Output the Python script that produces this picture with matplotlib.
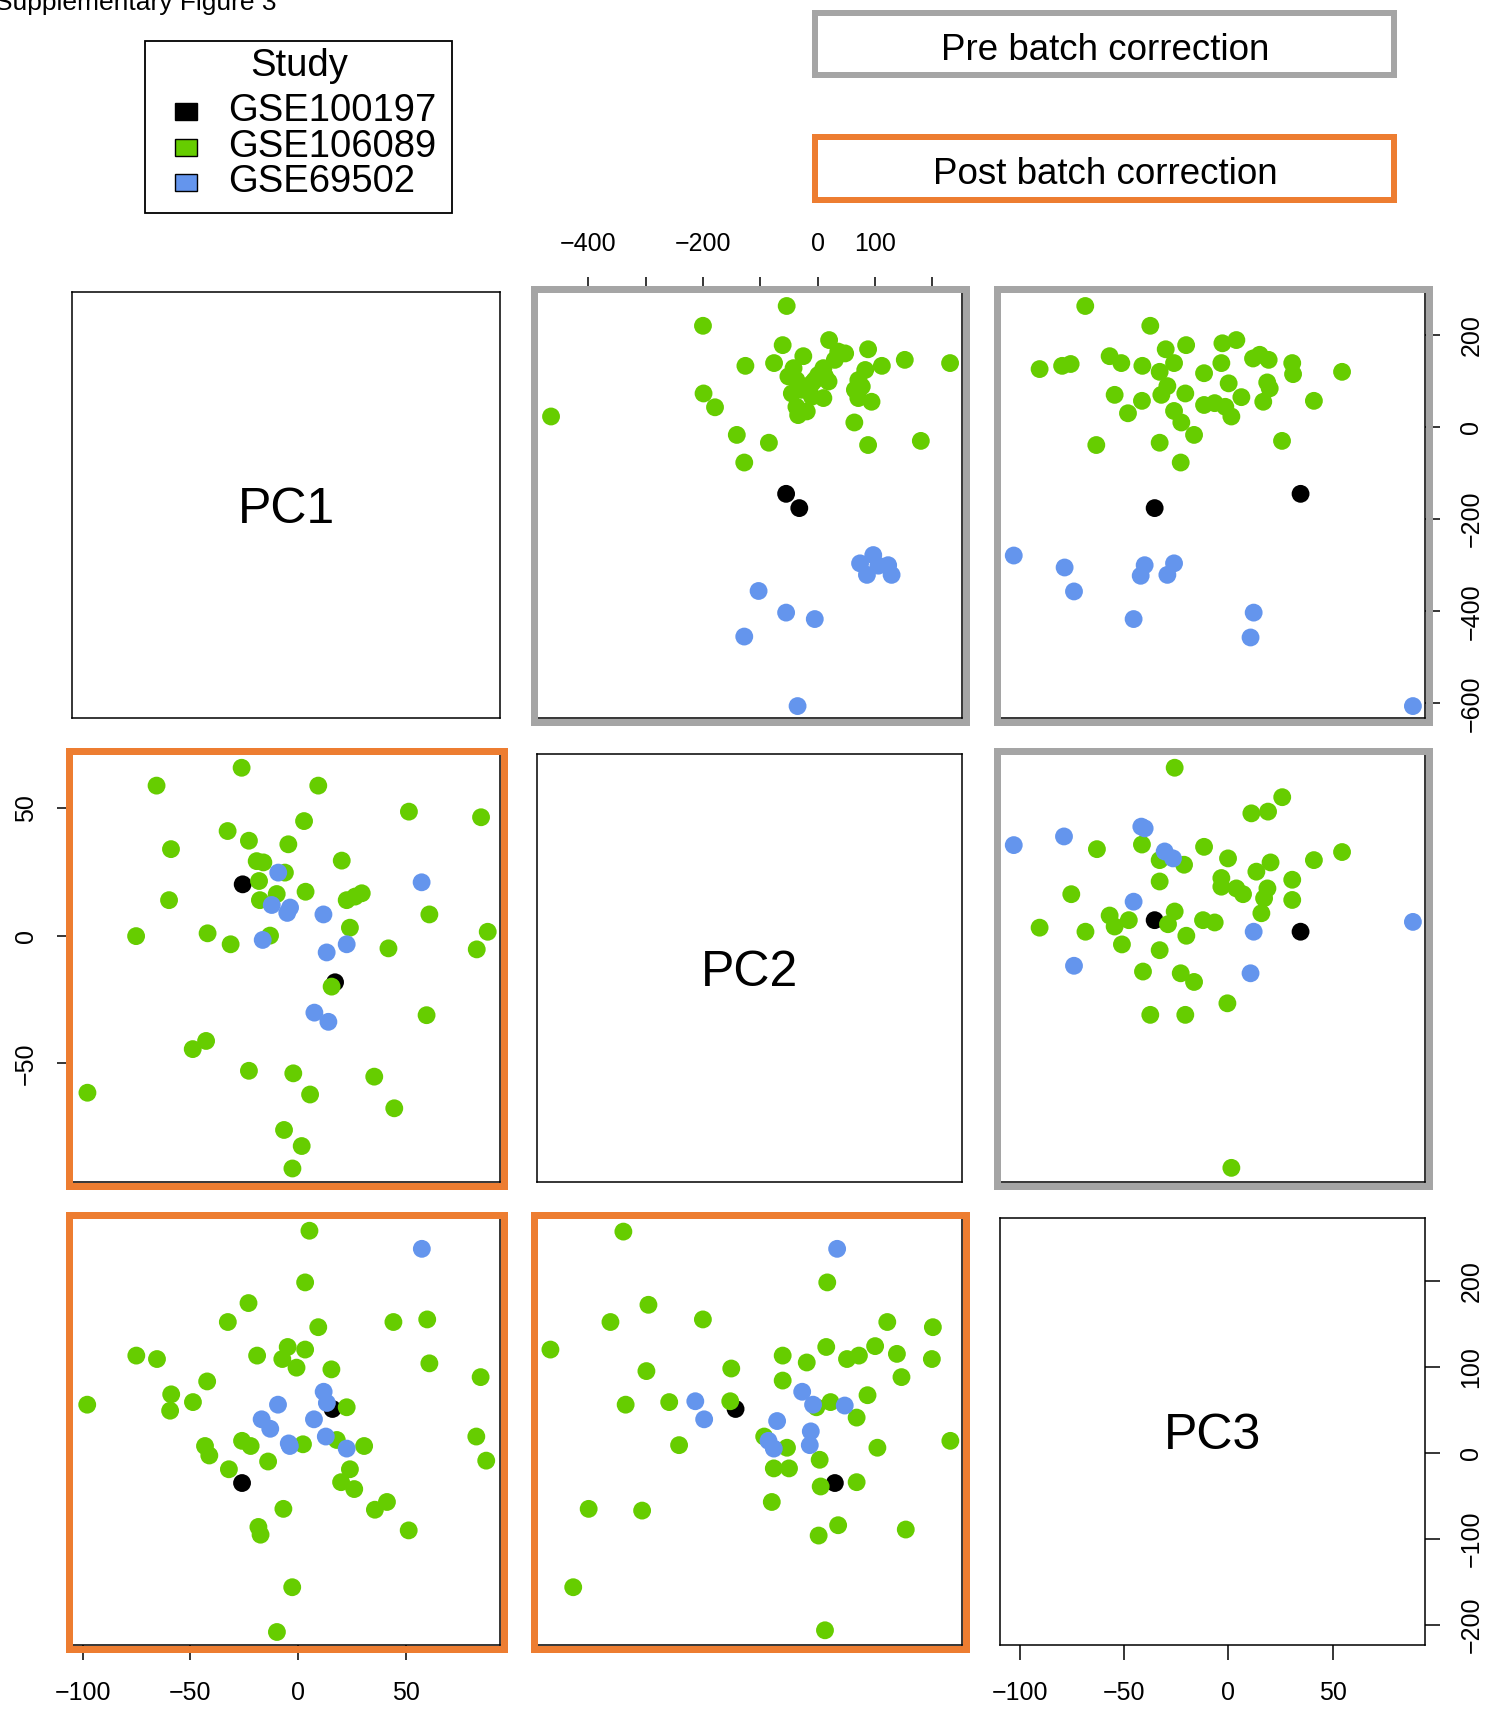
import matplotlib
matplotlib.use("Agg")
import matplotlib.pyplot as plt
from matplotlib.patches import Rectangle

plt.rcParams['font.family'] = ['Liberation Sans', 'DejaVu Sans']

W, H, DPI = 1491, 1709, 100

# ---------------- data ----------------
studies = ["GSE100197", "GSE106089", "GSE69502"]
study_colors = ["#000000", "#66CD00", "#6495ED"]
pc_names = ["PC1", "PC2", "PC3"]

# axis ranges of each component (pre = upper triangle, post = lower triangle)
pre_pc1_lim = (-631.9, 293.4)
pre_pc2_lim = (-489.5, 251.8)
pre_pc3_lim = (-109.6, 94.3)
post_pc1_lim = (-104.97, 93.8)
post_pc2_lim = (-96.5, 71.3)
post_pc3_lim = (-223.1, 272.8)

# tick values / labels
pre_pc2_ticks = [-400, -300, -200, -100, 0, 100, 200]
pre_pc2_ticklabels = ["\u2212400", "", "\u2212200", "", "0", "100", ""]
pre_pc1_ticks = [200, 0, -200, -400, -600]
pre_pc3_ticks = [-100, -50, 0, 50]
post_pc1_ticks = [-100, -50, 0, 50]
post_pc2_ticks = [50, 0, -50]
post_pc3_ticks = [200, 100, 0, -100, -200]

# ---- pre batch correction: PC2 (x) vs PC1 (y)
pre12_black_x = [-55, -32]
pre12_black_y = [-145, -176]
pre12_green_x = [-54, -200, 20, -61, 88, -25, 48, 152, 231, -126, -76, 112, 30, 10, -42, 1, 83, -37, -5, 19,
                 71, 65, -45, -10, 10, 94, 71, -37, -19, -34, -199, -179, -465, 64, -141, -85, 88, 180, -128,
                 -51, -28, 36, 77, 13, -10]
pre12_green_y = [263, 220, 189, 178, 169, 154, 160, 146, 139, 133, 139, 133, 146, 128, 128, 113, 124, 102, 102, 99,
                 102, 81, 73, 66, 63, 55, 63, 44, 34, 26, 73, 43, 23, 10, -17, -34, -39, -30, -77,
                 110, 81, 164, 88, 110, 95]
pre12_blue_x = [97, 74, 106, 123, 86, 129, -103, -55, -5, -128, -35]
pre12_blue_y = [-278, -296, -301, -300, -321, -321, -356, -403, -417, -455, -606]

# ---- pre batch correction: PC3 (x) vs PC1 (y)
pre13_black_x = [-35.4, 34.6]
pre13_black_y = [-176, -145]
pre13_green_x = [-68.7, -37.5, -20.3, -30.1, -2.9, 3.8, -90.6, -79.8, -75.7, -57, -51.4, -41.3, -33, -26.1, -11.7,
                 -3.4, 11.8, 15, 19.3, 30.6, 31, 54.5, -54.6, -41.5, -32.2, -29.3, -20.7, 0.1, 6.2, 18.6, 19.8,
                 16.7, 41, -48.2, -26.1, -22.6, -16.5, -11.7, -6.6, -1.5, 1.4, -63.4, -33, 25.7, -22.9]
pre13_green_y = [263, 220, 178, 169, 182, 189, 126, 133, 137, 154, 139, 133, 120, 139, 117,
                 139, 149, 157, 146, 139, 115, 120, 70, 57, 70, 89, 73, 95, 65, 97, 84,
                 55, 57, 30, 35, 10, -17, 48, 52, 44, 23, -39, -34, -30, -77]
pre13_blue_x = [-103, -78.6, -74.1, -40.2, -42.1, -26.1, -29.3, -45.5, 12.1, 10.6, 88.5]
pre13_blue_y = [-279, -305, -357, -300, -323, -296, -321, -417, -403, -457, -606]

# ---- pre batch correction: PC3 (x) vs PC2 (y)
pre23_black_x = [-35.4, 34.6]
pre23_black_y = [-36, -56]
pre23_green_x = [-25.8, 25.8, 11, 19, -63.1, -41.5, -11.7, -0.2, -33, -21.3, 20.2, 13.4, 41, 54.5, -33, -3.4,
                 -3.4, 3.8, 7, 18.7, 17.1, 15.8, 30.6, 30.6, -75.4, -90.6, -68.6, -57, -54.6, -47.8, -25.8,
                 -29, -20.2, -12.2, -6.6, -51.1, -33, -41, -22.9, -16.5, -0.5, -37.5, -20.7, 1.4]
pre23_green_y = [228, 177, 149, 152, 87, 95, 91, 71, 68, 60, 64, 48, 68, 82, 31, 37,
                 22, 19, 9, 19, 2, -24, 34, -1, 9, -49, -56, -28, -47, -36, -21,
                 -43, -63, -36, -40, -78, -88, -125, -128, -143, -180, -200, -200, -465]
pre23_blue_x = [-103, -78.9, -74.1, -45.5, -41.8, -40.2, -30.6, -26.6, 12.1, 10.6, 88.5]
pre23_blue_y = [94, 109, -115, -4, 126, 123, 83, 71, -56, -128, -39]

# ---- post batch correction: PC1 (x) vs PC2 (y)
post21_black_x = [-25.7, 17.2]
post21_black_y = [20.2, -18.2]
post21_green_x = [-26.2, -65.7, 9.4, 51.5, 85, 2.8, -32.7, -22.8, -4.5, -59, -19.2, -16.1, 20.3, -6.1, -18.1,
                  -9.9, 3.5, -17.7, -59.9, 22.6, 29.6, 26.5, 61, 24.1, -75.2, -42, -31.3, -13, 42, 83, 88.1,
                  15.6, 59.7, -42.7, -48.9, -22.8, -2.2, 35.4, -97.8, 5.6, 44.7, -6.5, 1.7, -2.6]
post21_green_y = [65.9, 58.9, 58.9, 48.7, 46.5, 45, 41.1, 37.3, 35.9, 34, 29.3, 28.8, 29.5, 24.8, 21.5,
                  16.4, 17.3, 14, 14, 14, 16.7, 15.4, 8.4, 3.2, -0.1, 1, -3.3, 0.1, -4.9, -5.3, 1.6,
                  -19.9, -31.1, -41.2, -44.4, -52.9, -53.9, -55.2, -61.5, -62.2, -67.6, -76.1, -82.4, -91.2]
post21_blue_x = [-9.2, -12.2, -3.7, -5.0, 11.8, -16.4, 13.3, 22.6, 7.6, 14.1, 57.4]
post21_blue_y = [24.8, 12.1, 11.1, 9.0, 8.4, -1.6, -6.5, -3.3, -30.1, -33.7, 21]

# ---- post batch correction: PC1 (x) vs PC3 (y)
post31_black_x = [16, -26]
post31_black_y = [51, -35]
post31_green_x = [5.3, 3.3, -23, -32.6, 9.4, 44.3, 60, -75.1, -65.5, -19, -4.8, -7.3, 3.3, -0.7, 15.5, 61,
                  -58.9, -42.2, -59.4, -48.8, -97.9, 22.6, 84.8, -43.2, -41.2, -26, -22, -13.9, 2.3, 18, 30.7,
                  82.8, 87.4, -32.1, 24.1, 20, 26.1, -6.8, 35.7, 41.3, -18.4, -17.4, 51.4, -2.7, -9.8]
post31_green_y = [258, 198, 174, 152, 146, 152, 155, 113, 109, 113, 123, 109, 120, 99, 97, 104,
                  68, 83, 49, 59, 56, 53, 88, 8, -3, 14, 8, -10, 10, 15, 8,
                  19, -9, -19, -19, -34, -42, -65, -66, -57, -86, -95, -90, -156, -208]
post31_blue_x = [57.5, -9.3, -16.9, -12.9, -4.3, -3.8, 7.4, 11.9, 13.4, 12.9, 22.6]
post31_blue_y = [237, 56, 39, 28, 11, 8, 39, 71, 58, 19, 5]

# ---- post batch correction: PC2 (x) vs PC3 (y)
post32_black_x = [-18.1, 21.1]
post32_black_y = [51, -35]
post32_green_x = [-62.4, 18.1, -52.5, -31, -67.5, 59.8, 41.8, -91.2, 17.7, 0.5, 10, 25.9, 30.6, 37, 45.6, 59.4,
                  -53.3, -19.8, 0.5, 47.4, -61.5, -44.3, -20.2, 13.8, 19.4, 34, 29.7, 66.7, -40.4, 2.2, -6.8,
                  -3, 3, 15.1, 37.9, -76.1, -55, -3.8, 15.5, 29.7, 22.4, 14.7, 49.1, -82.2, 17.2]
post32_green_y = [257, 198, 172, 155, 152, 146, 152, 120, 123, 113, 105, 109, 113, 124, 115, 109,
                  95, 98, 84, 88, 56, 59, 60, 53, 59, 67, 41, 14, 9, 6, 19,
                  -18, -18, -8, 6, -65, -67, -57, -39, -34, -84, -96, -89, -156, -206]
post32_blue_x = [22, -34, -30.5, 8.2, 12.5, 11.6, 11.2, 25, -1.7, -5.1, -3]
post32_blue_y = [237, 60, 39, 71, 56, 25, 9, 55, 37, 14, 5]

# ---------------- layout (pixels) ----------------
col_x = [(72, 500), (537, 962), (1000, 1425)]
row_y = [(292, 718), (754, 1182), (1218, 1645)]
GRAY = "#A5A5A5"
ORANGE = "#ED7D31"

fig = plt.figure(figsize=(W / DPI, H / DPI), dpi=DPI)


def make_ax(r, c):
    x0, x1 = col_x[c]
    y0, y1 = row_y[r]
    ax = fig.add_axes([x0 / W, 1 - y1 / H, (x1 - x0) / W, (y1 - y0) / H])
    for s in ax.spines.values():
        s.set_linewidth(1.1)
        s.set_color("black")
    ax.set_xticks([])
    ax.set_yticks([])
    return ax


axes = {}
for r in range(3):
    for c in range(3):
        axes[(r, c)] = make_ax(r, c)

panels = {
    (0, 1): (pre_pc2_lim, pre_pc1_lim,
             [(pre12_black_x, pre12_black_y), (pre12_green_x, pre12_green_y), (pre12_blue_x, pre12_blue_y)]),
    (0, 2): (pre_pc3_lim, pre_pc1_lim,
             [(pre13_black_x, pre13_black_y), (pre13_green_x, pre13_green_y), (pre13_blue_x, pre13_blue_y)]),
    (1, 2): (pre_pc3_lim, pre_pc2_lim,
             [(pre23_black_x, pre23_black_y), (pre23_green_x, pre23_green_y), (pre23_blue_x, pre23_blue_y)]),
    (1, 0): (post_pc1_lim, post_pc2_lim,
             [(post21_black_x, post21_black_y), (post21_green_x, post21_green_y), (post21_blue_x, post21_blue_y)]),
    (2, 0): (post_pc1_lim, post_pc3_lim,
             [(post31_black_x, post31_black_y), (post31_green_x, post31_green_y), (post31_blue_x, post31_blue_y)]),
    (2, 1): (post_pc2_lim, post_pc3_lim,
             [(post32_black_x, post32_black_y), (post32_green_x, post32_green_y), (post32_blue_x, post32_blue_y)]),
}

for key, (xl, yl, groups) in panels.items():
    ax = axes[key]
    ax.set_xlim(xl)
    ax.set_ylim(yl)
    for (gx, gy), col in zip(groups, study_colors):
        ax.scatter(gx, gy, s=165, c=col, edgecolors="none", zorder=3)

# diagonal labels
for i, name in enumerate(pc_names):
    axes[(i, i)].text(0.5, 0.489, name, transform=axes[(i, i)].transAxes,
                      ha="center", va="center", fontsize=36)

TL = 10.8
LS = 18


def minus(v):
    return str(v).replace("-", "\u2212")


# top axis of column 2 (pre PC2)
ax = axes[(0, 1)]
ax.xaxis.tick_top()
ax.set_xticks(pre_pc2_ticks)
ax.set_xticklabels(pre_pc2_ticklabels)
ax.tick_params(axis="x", direction="out", length=TL, width=1.1, labelsize=LS, pad=15)

# right axis of row 1 (pre PC1)
ax = axes[(0, 2)]
ax.yaxis.tick_right()
ax.set_yticks(pre_pc1_ticks)
ax.set_yticklabels([minus(v) for v in pre_pc1_ticks], rotation=90, va="center")
ax.tick_params(axis="y", direction="out", length=TL, width=1.1, labelsize=LS, pad=14)

# left axis of row 2 (post PC2)
ax = axes[(1, 0)]
ax.set_yticks(post_pc2_ticks)
ax.set_yticklabels([minus(v) for v in post_pc2_ticks], rotation=90, va="center")
ax.tick_params(axis="y", direction="out", length=TL, width=1.1, labelsize=LS, pad=14)

# bottom axis of column 1 (post PC1)
ax = axes[(2, 0)]
ax.set_xticks(post_pc1_ticks)
ax.set_xticklabels([minus(v) for v in post_pc1_ticks])
ax.tick_params(axis="x", direction="out", length=TL, width=1.1, labelsize=LS, pad=15)

# bottom (pre PC3) and right (post PC3) axes on panel (3,3)
ax = axes[(2, 2)]
ax.set_xlim(pre_pc3_lim)
ax.set_ylim(post_pc3_lim)
ax.set_xticks(pre_pc3_ticks)
ax.set_xticklabels([minus(v) for v in pre_pc3_ticks])
ax.tick_params(axis="x", direction="out", length=TL, width=1.1, labelsize=LS, pad=15)
ax.yaxis.tick_right()
ax.set_yticks(post_pc3_ticks)
ax.set_yticklabels([minus(v) for v in post_pc3_ticks], rotation=90, va="center")
ax.tick_params(axis="y", direction="out", length=TL, width=1.1, labelsize=LS, pad=14)

# ---------------- overlay (frames, legend, labels) ----------------
ov = fig.add_axes([0, 0, 1, 1], zorder=10)
ov.set_xlim(0, W)
ov.set_ylim(H, 0)
ov.axis("off")
ov.patch.set_alpha(0)

FW = 7  # frame thickness in px


def frame(r, c, color):
    x0, x1 = col_x[c]
    y0, y1 = row_y[r]
    ov.add_patch(Rectangle((x0 - FW / 2, y0 - FW / 2), x1 - x0 + FW, y1 - y0 + FW,
                           fill=False, ec=color, lw=FW * 72 / DPI, joinstyle="miter"))


for rc in [(0, 1), (0, 2), (1, 2)]:
    frame(*rc, GRAY)
for rc in [(1, 0), (2, 0), (2, 1)]:
    frame(*rc, ORANGE)

# header boxes
ov.add_patch(Rectangle((815, 13), 579, 62, fill=False, ec=GRAY, lw=6 * 72 / DPI, joinstyle="miter"))
ov.text(1105, 50, "Pre batch correction", ha="center", va="center", fontsize=26.5)
ov.add_patch(Rectangle((815, 137), 579, 63, fill=False, ec=ORANGE, lw=6 * 72 / DPI, joinstyle="miter"))
ov.text(1105, 174, "Post batch correction", ha="center", va="center", fontsize=26.5)

# legend
ov.add_patch(Rectangle((145, 41), 307, 172, fill=False, ec="black", lw=1.3))
ov.text(299, 66, "Study", ha="center", va="center", fontsize=27.5)
leg_y = [111, 147, 182]
for yy, name, col in zip(leg_y, studies, study_colors):
    ov.add_patch(Rectangle((175, yy - 8.5), 22, 17, fc=col, ec="black", lw=1.0))
    ov.text(228, yy, name, ha="left", va="center", fontsize=27.5)

fig.text(-5 / W, 1 - 10 / H, "Supplementary Figure 3", ha="left", va="baseline", fontsize=19)

fig.savefig("out.png", dpi=DPI)
